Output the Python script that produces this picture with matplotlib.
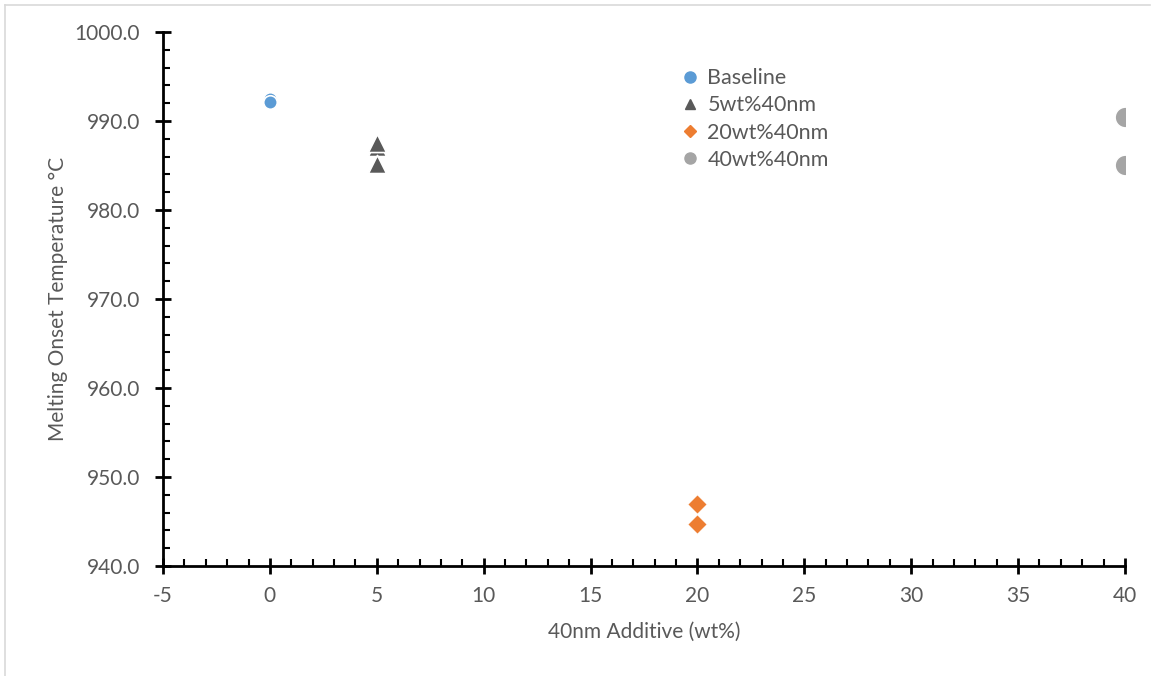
import matplotlib.pyplot as plt
from matplotlib.lines import Line2D
from matplotlib.ticker import MultipleLocator, FormatStrFormatter

plt.rcParams['font.family'] = ['Lato', 'DejaVu Sans']
plt.rcParams['axes.unicode_minus'] = False

# melting onset temperatures (deg C) by additive loading (wt%)
baseline_x = [0, 0]
baseline_y = [992.5, 992.1]
wt5_x = [5, 5, 5]
wt5_y = [987.1, 987.5, 985.2]
wt20_x = [20, 20]
wt20_y = [947.0, 944.7]
wt40_x = [40, 40]
wt40_y = [990.5, 985.0]

text_color = '#595959'

fig = plt.figure(figsize=(11.53, 6.76), dpi=100)
ax = fig.add_axes([0.1414, 0.1627, 0.9757 - 0.1414, 0.9527 - 0.1627])

ax.scatter(baseline_x, baseline_y, s=95, marker='o', color='#5b9bd5',
           edgecolors='white', linewidths=1.2, zorder=3)
ax.scatter(wt5_x, wt5_y, s=170, marker='^', color='#595959',
           edgecolors='white', linewidths=1.2, zorder=3)
ax.scatter(wt20_x, wt20_y, s=100, marker='D', color='#ed7d31',
           edgecolors='white', linewidths=0.8, zorder=3)
ax.scatter(wt40_x, wt40_y, s=220, marker='o', color='#a5a5a5',
           edgecolors='white', linewidths=1.0, zorder=3)

ax.set_xlim(-5, 40)
ax.set_ylim(940, 1000)
ax.xaxis.set_major_locator(MultipleLocator(5))
ax.xaxis.set_minor_locator(MultipleLocator(1))
ax.yaxis.set_major_locator(MultipleLocator(10))
ax.yaxis.set_minor_locator(MultipleLocator(2))
ax.yaxis.set_major_formatter(FormatStrFormatter('%.1f'))

for side in ['top', 'right']:
    ax.spines[side].set_visible(False)
for side in ['left', 'bottom']:
    ax.spines[side].set_linewidth(2)
    ax.spines[side].set_color('black')

ax.tick_params(which='major', direction='inout', length=11, width=2,
               color='black', labelsize=15, labelcolor=text_color, pad=11)
ax.tick_params(which='minor', direction='in', length=5, width=1.5,
               color='black')
ax.tick_params(axis='x', which='major', pad=9)

ax.set_xlabel('40nm Additive (wt%)', fontsize=15, color=text_color,
              labelpad=11)
ax.set_ylabel('Melting Onset Temperature °C', fontsize=15,
              color=text_color, labelpad=5)

handles = [
    Line2D([], [], ls='none', marker='o', ms=8, color='#5b9bd5'),
    Line2D([], [], ls='none', marker='^', ms=7, color='#595959'),
    Line2D([], [], ls='none', marker='D', ms=6, color='#ed7d31'),
    Line2D([], [], ls='none', marker='o', ms=8, color='#a5a5a5'),
]
labels = ['Baseline', '5wt%40nm', '20wt%40nm', '40wt%40nm']
leg = ax.legend(handles, labels, loc='upper left',
                bbox_to_anchor=(0.53, 0.948), frameon=False, fontsize=15.5,
                handlelength=0.8, handletextpad=0.4, labelspacing=0.33,
                borderaxespad=0)
for t in leg.get_texts():
    t.set_color(text_color)

# light frame around the chart area
fig.add_artist(Line2D([5 / 1153, 5 / 1153], [0, 1 - 5 / 676],
                      transform=fig.transFigure, color='#d9d9d9', lw=1.2))
fig.add_artist(Line2D([5 / 1153, 1 - 3 / 1153], [1 - 5 / 676, 1 - 5 / 676],
                      transform=fig.transFigure, color='#d9d9d9', lw=1.2))

fig.savefig('out.png', dpi=100)
